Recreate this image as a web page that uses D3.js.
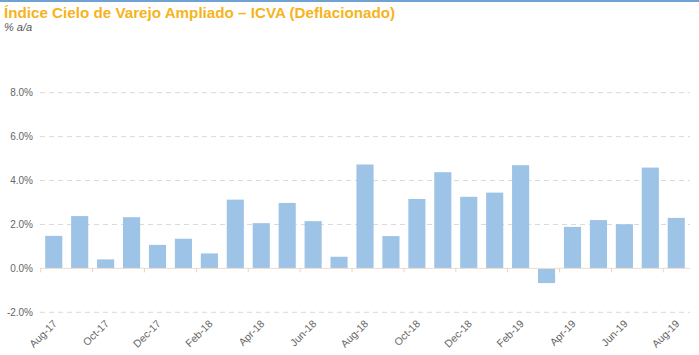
<!DOCTYPE html>
<html><head><meta charset="utf-8">
<script src="https://cdn.jsdelivr.net/npm/d3@7"></script>
<style>body{margin:0;background:#fff;}svg{display:block;font-family:"Liberation Sans",Arial,sans-serif;}</style>
</head><body>
<svg id="c" width="699" height="355"></svg>
<script>
const categories = ["Aug-17","Sep-17","Oct-17","Nov-17","Dec-17","Jan-18","Feb-18","Mar-18","Apr-18","May-18","Jun-18","Jul-18","Aug-18","Sep-18","Oct-18","Nov-18","Dec-18","Jan-19","Feb-19","Mar-19","Apr-19","May-19","Jun-19","Jul-19","Aug-19"];
const values = [1.48,2.38,0.41,2.33,1.07,1.35,0.68,3.13,2.06,2.98,2.15,0.53,4.73,1.47,3.16,4.38,3.26,3.45,4.70,-0.67,1.89,2.20,2.01,4.59,2.30];
const yTicks = [-2,0,2,4,6,8];
const title = "Índice Cielo de Varejo Ampliado – ICVA (Deflacionado)";
const subtitle = "% a/a";

const svg = d3.select("#c");
svg.append("rect").attr("x",0).attr("y",0).attr("width",699).attr("height",2).attr("fill","#6fa1d2");
svg.append("text").attr("x",4).attr("y",18).attr("font-size",15.2).attr("font-weight","bold").attr("fill","#f7b31c").text(title);
svg.append("text").attr("x",4).attr("y",31).attr("font-size",11).attr("font-style","italic").attr("fill","#555").text(subtitle);

const x = d3.scaleBand().domain(categories).range([40,690]).paddingInner(0.34).paddingOuter(0.2);
const y = d3.scaleLinear().domain([-2,8]).range([312.3,92.7]);

// gridlines
svg.append("g").selectAll("line").data(yTicks.filter(d=>d!==0)).join("line")
  .attr("x1",40).attr("x2",690).attr("y1",d=>y(d)).attr("y2",d=>y(d))
  .attr("stroke","#d9d9d9").attr("stroke-width",1).attr("stroke-dasharray","5,4");

// y labels
const yAxis = d3.axisLeft(y).tickValues(yTicks).tickFormat(d=>d.toFixed(1)+"%").tickSize(0).tickPadding(0);
const gy = svg.append("g").attr("transform","translate(33,0)").call(yAxis);
gy.select(".domain").remove();
gy.selectAll("text").attr("font-size",10).attr("fill","#666").attr("font-family","Liberation Sans, Arial, sans-serif");

// bars
svg.append("g").selectAll("rect").data(values).join("rect")
  .attr("x",(d,i)=>x(categories[i]))
  .attr("width",x.bandwidth())
  .attr("y",d=>y(Math.max(0,d)))
  .attr("height",d=>Math.abs(y(d)-y(0)))
  .attr("fill","#9dc3e6");

// zero line
svg.append("line").attr("x1",40).attr("x2",690).attr("y1",y(0)).attr("y2",y(0)).attr("stroke","#efdccb").attr("stroke-width",1);
// ticks at boundaries every 2 categories
const step = x.step();
const tickIdx = d3.range(0,categories.length,2);
svg.append("g").selectAll("line").data(tickIdx).join("line")
  .attr("x1",i=>x(categories[i])-step*x.paddingInner()/2)
  .attr("x2",i=>x(categories[i])-step*x.paddingInner()/2)
  .attr("y1",y(0)).attr("y2",y(0)+4).attr("stroke","#e2d6cc");

// x labels
svg.append("g").selectAll("text").data(tickIdx).join("text")
  .attr("transform",i=>`translate(${x(categories[i])+x.bandwidth()/2+4},${y(-2)+12}) rotate(-45)`)
  .attr("text-anchor","end").attr("font-size",10.5).attr("fill","#666")
  .text(i=>categories[i]);
</script>
</body></html>
